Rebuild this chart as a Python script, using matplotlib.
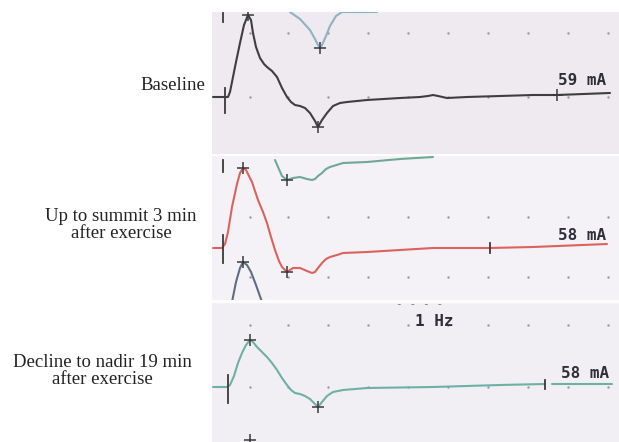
import matplotlib
matplotlib.use("Agg")
import matplotlib.pyplot as plt

W, H = 619, 442

# ---------------- data (screen-like units) ----------------
row_labels = ["Baseline", "Up to summit 3 min\nafter exercise", "Decline to nadir 19 min\nafter exercise"]
intensity_labels = ["59 mA", "58 mA", "58 mA"]
freq_label = "1 Hz"

# panel vertical extents (top, bottom)
panel_top = [12, 156, 303]
panel_bot = [154, 300, 442]

# Panel 1: baseline trace
p1_t = [213, 228, 230, 233, 236, 240, 244, 248, 251, 253, 256, 260, 264, 267, 272, 277, 282, 287,
        291, 295, 300, 305, 310, 315, 318, 322, 327, 333, 340, 347, 367, 400, 420, 428, 433, 438,
        447, 467, 500, 533, 557, 610]
p1_v = [97, 97, 92, 77, 62, 43, 25, 15, 20, 33, 47, 58, 64, 67, 71, 77, 88, 97,
        102, 105, 106, 108, 113, 121, 127, 120, 113, 106, 103, 102, 100, 98, 97, 96, 95, 96,
        98, 97, 96, 95, 95, 93]
p1_marks_t = [248, 318, 557]
p1_marks_v = [15, 127, 95]
# overlapped trace at top of panel 1
p1o_t = [290, 300, 310, 315, 318, 320, 322, 326, 330, 336, 342, 377]
p1o_v = [12, 19, 30, 39, 45, 48, 45, 36, 26, 16, 12, 12]
p1o_marks_t = [320]
p1o_marks_v = [48]

# Panel 2: red trace
p2_t = [213, 222, 225, 228, 232, 237, 240, 243, 246, 248, 252, 258, 263, 267, 271, 275, 279, 282, 287,
        293, 300, 307, 312, 315, 318, 322, 326, 330, 337, 343, 367, 400, 433, 490, 533, 607]
p2_v = [248, 248, 244, 232, 207, 184, 173, 168, 170, 174, 182, 200, 212, 223, 237, 250, 261, 267, 272,
        268, 268, 271, 273, 272, 268, 263, 259, 257, 255, 253, 252, 250, 248, 248, 247, 244]
p2_marks_t = [243, 287]
p2_marks_v = [168, 272]
# green trace above
p2g_t = [275, 278, 282, 287, 293, 300, 307, 312, 315, 318, 322, 326, 330, 343, 367, 400, 433]
p2g_v = [160, 167, 176, 180, 178, 177, 179, 180, 179, 176, 173, 169, 167, 163, 162, 159, 157]
p2g_marks_t = [287]
p2g_marks_v = [180]
# blue-grey trace below
p2b_t = [232, 236, 240, 243, 247, 251, 256, 262]
p2b_v = [302, 282, 268, 262, 265, 272, 285, 302]
p2b_marks_t = [243]
p2b_marks_v = [262]

# Panel 3: teal trace
p3_t = [213, 227, 230, 234, 238, 242, 246, 250, 253, 257, 262, 267, 272, 277, 282, 287, 291, 295,
        300, 305, 310, 315, 318, 322, 327, 333, 338, 343, 367, 433, 500, 545]
p3_v = [387, 387, 385, 376, 363, 353, 345, 340, 342, 347, 352, 357, 363, 370, 378, 385, 390, 393,
        394, 396, 399, 404, 407, 402, 396, 392, 391, 390, 388, 387, 385, 384]
p3_tail_t = [552, 612]
p3_tail_v = [384, 384]
p3_marks_t = [250, 318, 250]
p3_marks_v = [340, 407, 440]

# stimulus / cursor ticks: (x, y_from, y_to)
tick_x = [225, 223, 223, 223, 490, 228, 545]
tick_y0 = [88, 13, 235, 160, 243, 375, 380]
tick_y1 = [113, 22, 263, 172, 253, 403, 389]

# grid dots
dot_cols = [250, 288, 328, 368, 408, 448, 488, 528, 568, 608]
dot_rows = [33, 97, 217, 277, 325, 387]

# ---------------- drawing ----------------
fig = plt.figure(figsize=(W / 100, H / 100), dpi=100)
fig.patch.set_facecolor("white")

bg = ["#eeeaf0", "#f4f2f6", "#f1eff4"]
axes = []
for i in range(3):
    top, bot = panel_top[i], panel_bot[i]
    ax = fig.add_axes([212 / W, 1 - bot / H, (W - 212) / W, (bot - top) / H])
    ax.set_xlim(212, W)
    ax.set_ylim(bot, top)
    ax.set_facecolor(bg[i])
    ax.axis("off")
    ax.add_patch(plt.Rectangle((212, top), W - 212, bot - top, color=bg[i], zorder=0))
    axes.append(ax)
    for r in dot_rows:
        if top < r < bot:
            ax.scatter(dot_cols, [r] * len(dot_cols), s=3, color="#9c98a2", zorder=1, linewidths=0)

mk = dict(marker="+", ms=9, mew=1.1, color="#3a3a3a", ls="none", zorder=5)
ln = dict(lw=1.5, solid_joinstyle="round", solid_capstyle="round")

a1, a2, a3 = axes
a1.plot(p1o_t, p1o_v, color="#8fb2c2", zorder=3, **ln)
a1.plot(p1o_marks_t, p1o_marks_v, **mk)
a1.plot(p1_t, p1_v, color="#3e3e40", zorder=4, **ln)
a1.plot(p1_marks_t, p1_marks_v, **mk)

a2.plot(p2g_t, p2g_v, color="#6fa896", zorder=3, **ln)
a2.plot(p2g_marks_t, p2g_marks_v, **mk)
a2.plot(p2b_t, p2b_v, color="#5f6d84", zorder=3, **ln)
a2.plot(p2b_marks_t, p2b_marks_v, **mk)
a2.plot(p2_t, p2_v, color="#dc625e", zorder=4, **ln)
a2.plot(p2_marks_t, p2_marks_v, **mk)

a3.plot(p3_t, p3_v, color="#6fb0a6", zorder=4, **ln)
a3.plot(p3_tail_t, p3_tail_v, color="#6fb0a6", zorder=4, **ln)
a3.plot(p3_marks_t, p3_marks_v, **mk)

for x, y0, y1 in zip(tick_x, tick_y0, tick_y1):
    for i, ax in enumerate(axes):
        if panel_top[i] <= y0 <= panel_bot[i]:
            ax.plot([x, x], [y0, y1], color="#3a3a3a", lw=1.3, zorder=5)

# intensity labels
mono = dict(family="DejaVu Sans Mono", fontsize=11.5, fontweight="bold", color="#2f2f38",
            ha="right", va="bottom")
a1.text(606, 88, intensity_labels[0], **mono)
a2.text(606, 243, intensity_labels[1], **mono)
a3.text(609, 381, intensity_labels[2], **mono)
a3.text(434, 322, freq_label, family="DejaVu Sans Mono", fontsize=11.5, fontweight="bold",
        color="#2f2f38", ha="center", va="center")
a3.text(420, 304, "- - - -", family="DejaVu Sans Mono", fontsize=8, color="#777",
        ha="center", va="center")

# row labels (figure pixel coordinates)
serif = dict(family="Liberation Serif", fontsize=13.5, color="#222222")
fig.text(205 / W, 1 - 85 / H, row_labels[0], ha="right", va="center", **serif)
fig.text(121 / W, 1 - 225 / H, row_labels[1], ha="center", va="center", linespacing=0.95, **serif)
fig.text(102 / W, 1 - 371 / H, row_labels[2], ha="center", va="center", linespacing=0.95, **serif)

fig.savefig("out.png", dpi=100, facecolor="white")
